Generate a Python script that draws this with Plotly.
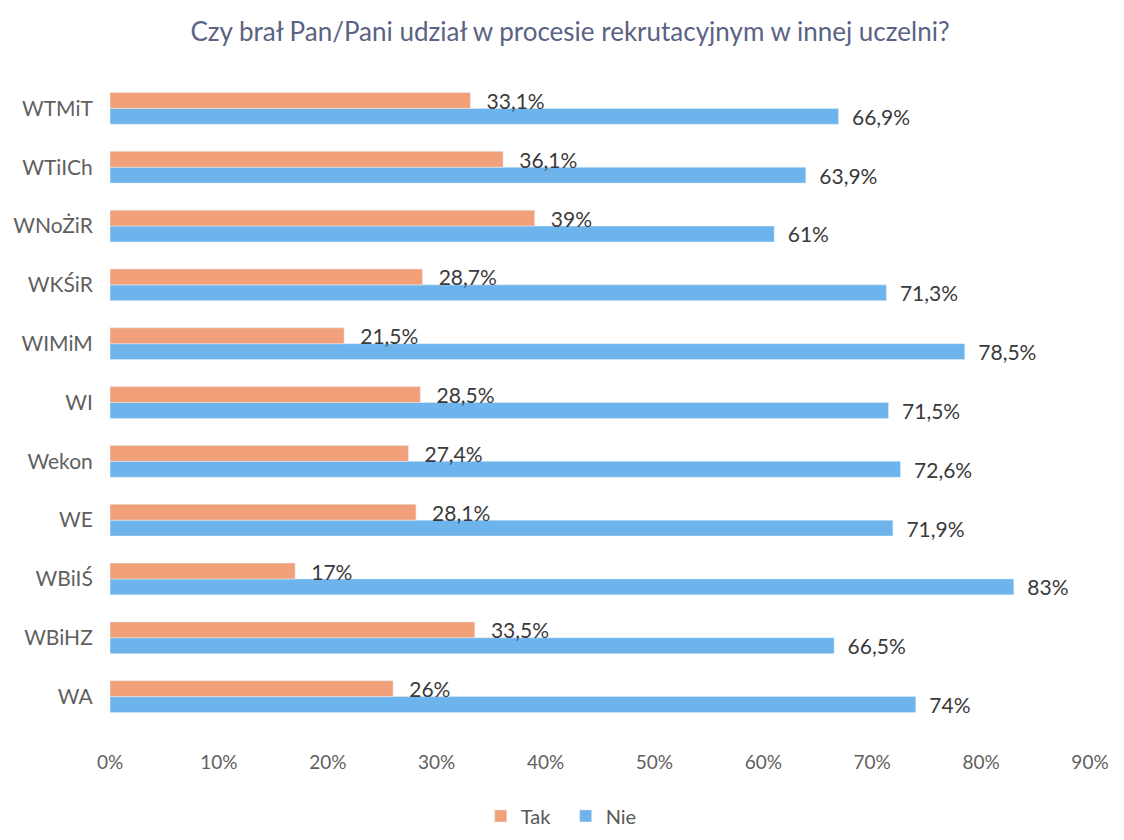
import plotly.graph_objects as go

categories = ["WA", "WBiHZ", "WBiIŚ", "WE", "Wekon", "WI", "WIMiM", "WKŚiR", "WNoŻiR", "WTiICh", "WTMiT"]
tak = [26, 33.5, 17, 28.1, 27.4, 28.5, 21.5, 28.7, 39, 36.1, 33.1]
nie = [74, 66.5, 83, 71.9, 72.6, 71.5, 78.5, 71.3, 61, 63.9, 66.9]
x_ticks = [0, 10, 20, 30, 40, 50, 60, 70, 80, 90]

def fmt(v, pad):
    s = ("%g" % v).replace(".", ",")
    return pad + s + "%"

FONT = "Lato, 'Open Sans', sans-serif"
TXT = "#3a3a3a"

fig = go.Figure()
fig.add_trace(go.Bar(
    y=categories, x=nie, orientation="h", name="Nie",
    marker_color="#6DB4EC", text=[fmt(v, "\u2002") for v in nie],
    textposition="outside", constraintext="none",
    textfont=dict(size=21, color=TXT, family=FONT),
    cliponaxis=False, legendrank=2,
))
fig.add_trace(go.Bar(
    y=categories, x=tak, orientation="h", name="Tak",
    marker_color="#F2A07A", text=[fmt(v, "\u2002\u2009") for v in tak],
    textposition="outside", constraintext="none",
    textfont=dict(size=21, color=TXT, family=FONT),
    cliponaxis=False, legendrank=1,
))

fig.update_layout(
    width=1124, height=840,
    paper_bgcolor="white", plot_bgcolor="white",
    barmode="group", bargap=0.46, bargroupgap=0,
    margin=dict(l=102, r=42, t=71, b=114),
    title=dict(text="Czy brał Pan/Pani udział w procesie rekrutacyjnym w innej uczelni?",
               x=0.5, xanchor="center", y=1 - 24 / 840, yanchor="middle",
               font=dict(size=26, color="#5A6384", family=FONT)),
    font=dict(family=FONT, color="#595959", size=18),
    legend=dict(orientation="h", x=0.465, xanchor="center", y=-0.139, yanchor="middle",
                font=dict(size=20, color="#595959"), itemwidth=30,
                entrywidth=40, entrywidthmode="pixels"),
    showlegend=True,
)
fig.update_xaxes(
    range=[0, 90], tickvals=x_ticks, ticktext=[f"{v}%" for v in x_ticks],
    showgrid=False, zeroline=False, showline=False, automargin=False,
    ticks="outside", ticklen=19, tickcolor="rgba(0,0,0,0)",
    tickfont=dict(size=19, color="#5f5f5f"),
)
fig.update_yaxes(
    showgrid=False, zeroline=False, showline=False, automargin=False,
    ticks="outside", ticklen=12, tickcolor="rgba(0,0,0,0)",
    tickfont=dict(size=21, color="#5f5f5f"),
)

fig.write_html("out.html")
